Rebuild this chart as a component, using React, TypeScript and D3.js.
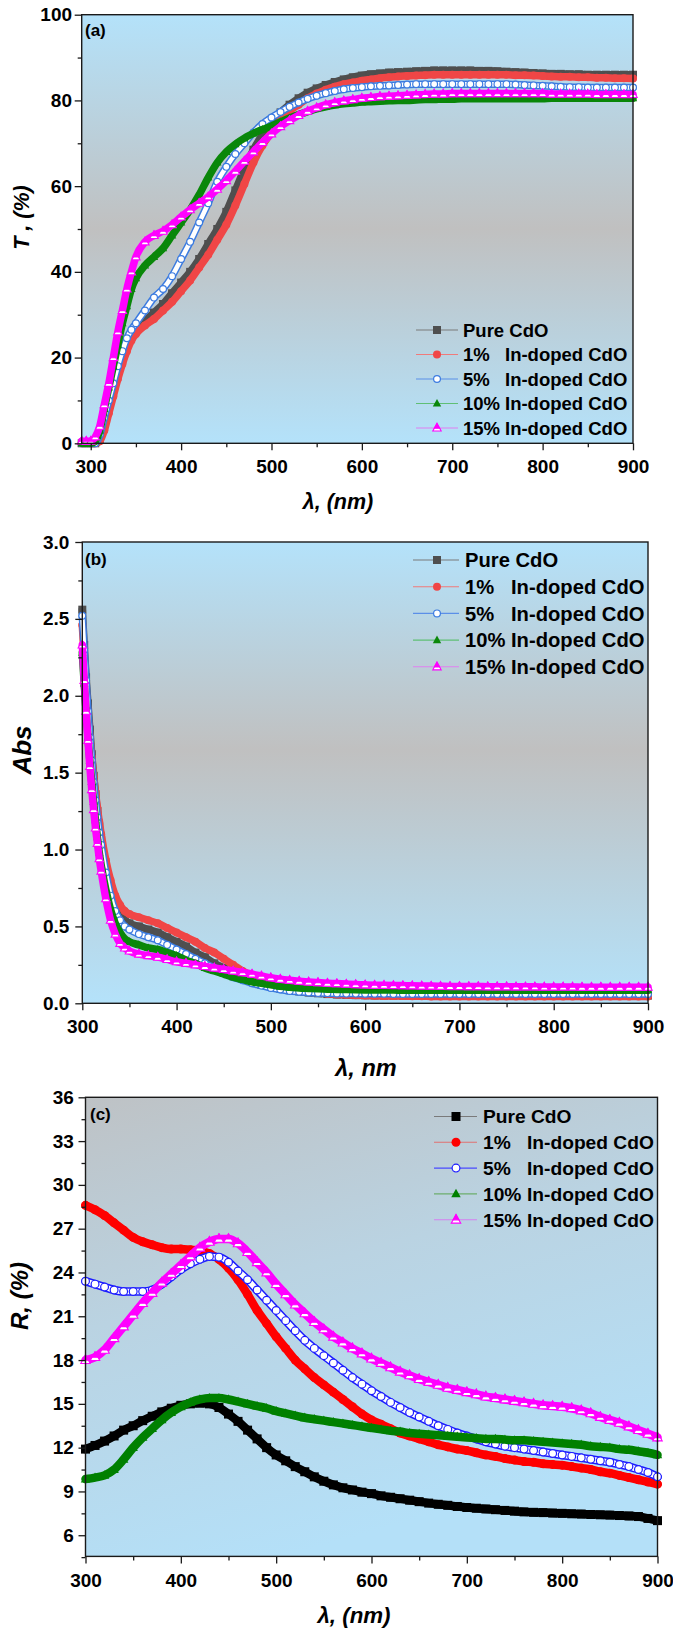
import React, { useEffect, useRef } from "react";
import * as d3 from "d3";

// ---------- data ----------
const legendNames = ["Pure CdO", "1%", "5%", "10%", "15%"];

// (a) transmittance
const waveA = [290, 295, 300, 305, 310, 315, 320, 325, 330, 335, 340, 345, 350,
  360, 370, 380, 390, 400, 410, 420, 430, 440, 450, 460, 470, 480, 490, 500,
  510, 520, 530, 540, 550, 560, 570, 580, 590, 600, 610, 620, 630, 640, 650,
  660, 670, 680, 690, 700, 710, 720, 730, 740, 750, 760, 770, 780, 790, 800,
  810, 820, 830, 840, 850, 860, 870, 880, 890, 900];
const pureA = [0, 0, 0, 0, 1, 5, 9, 13, 17, 20, 23, 25, 26.5,
  28.5, 30.5, 32.5, 35, 37.5, 40, 43, 46.5, 50, 54, 59, 64, 68.5, 72, 74.8,
  77.2, 79, 80.5, 81.8, 82.8, 83.6, 84.3, 84.9, 85.4, 85.8, 86.1, 86.3, 86.5, 86.6, 86.7,
  86.8, 86.9, 87, 87, 87, 87, 87, 86.9, 86.9, 86.8, 86.7, 86.6, 86.5, 86.4, 86.3,
  86.2, 86.2, 86.1, 86.1, 86, 86, 86, 86, 86, 86];
const dope1A = [0, 0, 0, 0, 0.5, 3, 7, 11, 15, 18.5, 21.5, 24, 25.5,
  27.5, 29, 31, 33, 35.5, 38, 41, 44, 47.5, 51, 55.5, 60.5, 65.5, 69.5, 72.5,
  75.3, 77.5, 79, 80.5, 81.6, 82.5, 83.2, 83.8, 84.2, 84.6, 84.9, 85.2, 85.4, 85.6, 85.7,
  85.8, 85.9, 86, 86, 86, 86, 86, 86, 86, 86, 86, 85.9, 85.9, 85.8, 85.7,
  85.6, 85.5, 85.5, 85.4, 85.4, 85.3, 85.3, 85.2, 85.2, 85.1];
const dope5A = [0, 0, 0, 0, 2, 6, 10, 14, 18, 21.5, 24.5, 26.5, 28,
  31, 34, 36, 39, 43, 47, 51.5, 56, 61, 64.5, 67.5, 70, 72.5, 74.5, 76,
  77.3, 78.5, 79.5, 80.4, 81.1, 81.7, 82.2, 82.6, 82.9, 83.1, 83.3, 83.4, 83.5, 83.6, 83.7,
  83.8, 83.8, 83.8, 83.8, 83.8, 83.8, 83.8, 83.8, 83.8, 83.8, 83.8, 83.7, 83.6, 83.5, 83.4,
  83.3, 83.2, 83.1, 83.1, 83, 83, 83, 83, 83, 83];
const dope10A = [0, 0, 0, 0.5, 3, 8, 13, 18, 23, 28, 32, 36, 38.5,
  41.5, 43.5, 45.5, 48.5, 51.5, 54.5, 58, 62, 65.5, 68, 69.8, 71.2, 72.3, 73.2, 74,
  75, 75.9, 76.7, 77.4, 78, 78.5, 78.9, 79.2, 79.4, 79.6, 79.7, 79.8, 79.9, 80, 80,
  80.1, 80.2, 80.2, 80.3, 80.3, 80.4, 80.4, 80.4, 80.4, 80.4, 80.4, 80.4, 80.4, 80.4, 80.4,
  80.5, 80.5, 80.5, 80.5, 80.5, 80.5, 80.5, 80.5, 80.5, 80.5];
const dope15A = [0.5, 0.5, 0.5, 1.5, 4, 9, 14, 20, 26, 31, 36, 40, 43.5,
  47, 48.5, 49.5, 51, 52.8, 54.5, 56, 57.5, 59.3, 61.3, 63.5, 65.8, 68, 70.2, 72.2,
  73.9, 75.3, 76.5, 77.5, 78.3, 79, 79.5, 79.9, 80.2, 80.5, 80.7, 80.9, 81, 81.1, 81.2,
  81.3, 81.4, 81.5, 81.5, 81.6, 81.6, 81.6, 81.6, 81.6, 81.6, 81.6, 81.6, 81.6, 81.6, 81.6,
  81.5, 81.5, 81.5, 81.5, 81.5, 81.4, 81.4, 81.4, 81.4, 81.4];

// (b) absorbance
const waveB = [300, 302, 304, 306, 308, 310, 312, 314, 316, 318, 320, 325, 330, 335, 340, 345, 350,
  360, 370, 380, 390, 400, 410, 420, 430, 440, 450, 460, 470, 480, 490, 500,
  510, 520, 530, 540, 550, 560, 570, 580, 590, 600, 610, 620, 630, 640, 650,
  660, 670, 680, 690, 700, 710, 720, 730, 740, 750, 760, 770, 780, 790, 800,
  810, 820, 830, 840, 850, 860, 870, 880, 890, 900];
const pureB = [2.56, 2.33, 2.12, 1.95, 1.78, 1.62, 1.48, 1.36, 1.25, 1.15, 1.06, 0.88, 0.74, 0.64, 0.58, 0.54, 0.52,
  0.5, 0.48, 0.46, 0.43, 0.4, 0.37, 0.33, 0.3, 0.26, 0.23, 0.19, 0.16, 0.14, 0.12, 0.11,
  0.095, 0.085, 0.077, 0.07, 0.065, 0.06, 0.057, 0.055, 0.053, 0.052, 0.051, 0.05, 0.05, 0.05, 0.05,
  0.05, 0.05, 0.05, 0.05, 0.05, 0.05, 0.05, 0.05, 0.05, 0.05, 0.05, 0.05, 0.05, 0.05, 0.05,
  0.05, 0.05, 0.05, 0.05, 0.05, 0.05, 0.05, 0.05, 0.05, 0.05];
const dope1B = [2.46, 2.24, 2.05, 1.88, 1.73, 1.6, 1.48, 1.37, 1.27, 1.18, 1.1, 0.93, 0.8, 0.7, 0.64, 0.6, 0.58,
  0.56, 0.54, 0.52, 0.49, 0.46, 0.43, 0.4, 0.36, 0.33, 0.29, 0.25, 0.21, 0.18, 0.15, 0.13,
  0.11, 0.095, 0.085, 0.075, 0.068, 0.062, 0.058, 0.055, 0.052, 0.05, 0.049, 0.048, 0.047, 0.047, 0.046,
  0.046, 0.045, 0.045, 0.045, 0.045, 0.045, 0.045, 0.045, 0.045, 0.045, 0.045, 0.045, 0.045, 0.045, 0.045,
  0.045, 0.045, 0.045, 0.045, 0.045, 0.045, 0.045, 0.045, 0.045, 0.045];
const dope5B = [2.52, 2.3, 2.1, 1.9, 1.73, 1.58, 1.44, 1.32, 1.21, 1.11, 1.03, 0.85, 0.7, 0.6, 0.54, 0.5, 0.48,
  0.45, 0.43, 0.41, 0.38, 0.35, 0.32, 0.29, 0.26, 0.23, 0.2, 0.17, 0.15, 0.13, 0.115, 0.1,
  0.09, 0.08, 0.075, 0.07, 0.067, 0.065, 0.064, 0.063, 0.063, 0.062, 0.062, 0.062, 0.061, 0.061, 0.061,
  0.06, 0.06, 0.06, 0.06, 0.06, 0.06, 0.06, 0.06, 0.06, 0.06, 0.06, 0.06, 0.06, 0.06, 0.06,
  0.06, 0.06, 0.06, 0.06, 0.06, 0.06, 0.06, 0.06, 0.06, 0.06];
const dope10B = [2.28, 2.08, 1.9, 1.73, 1.58, 1.44, 1.31, 1.19, 1.08, 0.98, 0.9, 0.74, 0.61, 0.52, 0.46, 0.42, 0.4,
  0.38, 0.36, 0.35, 0.33, 0.31, 0.28, 0.26, 0.23, 0.21, 0.19, 0.17, 0.155, 0.14, 0.13, 0.12,
  0.11, 0.105, 0.1, 0.097, 0.094, 0.092, 0.09, 0.089, 0.088, 0.087, 0.086, 0.086, 0.086, 0.085, 0.085,
  0.085, 0.085, 0.085, 0.085, 0.085, 0.085, 0.085, 0.085, 0.085, 0.085, 0.085, 0.085, 0.085, 0.085, 0.085,
  0.085, 0.085, 0.085, 0.085, 0.085, 0.085, 0.085, 0.085, 0.085, 0.085];
const dope15B = [2.33, 2.1, 1.9, 1.71, 1.54, 1.39, 1.26, 1.14, 1.04, 0.94, 0.86, 0.68, 0.54, 0.45, 0.39, 0.36, 0.34,
  0.32, 0.31, 0.3, 0.285, 0.27, 0.26, 0.25, 0.24, 0.23, 0.22, 0.21, 0.2, 0.19, 0.178, 0.166,
  0.157, 0.15, 0.144, 0.139, 0.135, 0.131, 0.128, 0.125, 0.122, 0.12, 0.118, 0.117, 0.116, 0.115, 0.114,
  0.113, 0.112, 0.111, 0.11, 0.11, 0.109, 0.109, 0.108, 0.108, 0.108, 0.107, 0.107, 0.107, 0.106, 0.106,
  0.106, 0.106, 0.105, 0.105, 0.105, 0.105, 0.105, 0.105, 0.105, 0.105];

// (c) reflectance
const waveC = [300, 310, 320, 330, 340, 350, 360, 370, 380, 390, 400, 410, 420, 430, 440,
  450, 460, 470, 480, 490, 500, 510, 520, 530, 540, 550, 560, 570, 580, 590,
  600, 610, 620, 630, 640, 650, 660, 670, 680, 690, 700, 710, 720, 730, 740,
  750, 760, 770, 780, 790, 800, 810, 820, 830, 840, 850, 860, 870, 880, 890, 900];
const pureC = [11.9, 12.15, 12.45, 12.8, 13.2, 13.5, 13.85, 14.15, 14.45, 14.7, 14.9, 15.0, 15.05, 15.0, 14.75,
  14.3, 13.8, 13.2, 12.6, 12.0, 11.5, 11.1, 10.7, 10.35, 10.0, 9.7, 9.45, 9.25, 9.1, 8.95,
  8.85, 8.7, 8.6, 8.5, 8.4, 8.3, 8.2, 8.12, 8.05, 7.97, 7.9, 7.85, 7.8, 7.75, 7.7,
  7.65, 7.6, 7.57, 7.55, 7.52, 7.5, 7.47, 7.45, 7.42, 7.4, 7.38, 7.35, 7.32, 7.28, 7.15, 7.0];
const dope1C = [28.6, 28.3, 27.9, 27.4, 26.9, 26.4, 26.1, 25.9, 25.7, 25.6, 25.6, 25.55, 25.5, 25.3, 24.9,
  24.3, 23.5, 22.5, 21.4, 20.5, 19.6, 18.8, 18.0, 17.4, 16.8, 16.3, 15.8, 15.3, 14.8, 14.3,
  13.9, 13.6, 13.3, 13.0, 12.8, 12.6, 12.4, 12.2, 12.05, 11.9, 11.8, 11.65, 11.5, 11.4, 11.25,
  11.15, 11.05, 11.0, 10.9, 10.85, 10.8, 10.7, 10.6, 10.5, 10.35, 10.25, 10.1, 9.95, 9.8, 9.65, 9.5];
const dope5C = [23.4, 23.2, 23.0, 22.8, 22.7, 22.7, 22.7, 22.8, 23.2, 23.7, 24.2, 24.6, 24.9, 25.1, 25.05,
  24.7, 24.1, 23.5, 22.8, 22.1, 21.4, 20.7, 20.0, 19.35, 18.8, 18.3, 17.8, 17.3, 16.8, 16.35,
  15.9, 15.5, 15.1, 14.75, 14.4, 14.1, 13.8, 13.5, 13.25, 13.0, 12.8, 12.6, 12.4, 12.25, 12.1,
  12.0, 11.9, 11.8, 11.7, 11.6, 11.5, 11.4, 11.3, 11.2, 11.1, 11.0, 10.85, 10.7, 10.5, 10.3, 10.0];
const dope10C = [9.85, 9.95, 10.1, 10.5, 11.2, 12.0, 12.7, 13.3, 13.9, 14.4, 14.8, 15.1, 15.3, 15.4, 15.4,
  15.3, 15.15, 15.0, 14.85, 14.7, 14.5, 14.35, 14.2, 14.05, 13.95, 13.85, 13.75, 13.65, 13.55, 13.45,
  13.35, 13.25, 13.15, 13.1, 13.0, 12.95, 12.9, 12.85, 12.8, 12.75, 12.7, 12.65, 12.6, 12.6, 12.55,
  12.5, 12.5, 12.45, 12.4, 12.35, 12.3, 12.25, 12.2, 12.1, 12.05, 12.0, 11.9, 11.85, 11.75, 11.65, 11.5];
const dope15C = [18.0, 18.2, 18.7, 19.5, 20.3, 21.1, 21.9, 22.6, 23.3, 23.9, 24.5, 25.1, 25.7, 26.1, 26.3,
  26.3, 26.0, 25.4, 24.7, 24.0, 23.2, 22.5, 21.8, 21.2, 20.6, 20.1, 19.6, 19.2, 18.8, 18.45,
  18.1, 17.8, 17.5, 17.2, 16.95, 16.7, 16.5, 16.3, 16.1, 15.95, 15.8, 15.65, 15.5, 15.4, 15.3,
  15.2, 15.1, 15.0, 14.9, 14.85, 14.8, 14.7, 14.55, 14.35, 14.1, 13.9, 13.7, 13.45, 13.2, 12.95, 12.7];

// ticks
const xMajor = [300, 400, 500, 600, 700, 800, 900];
const xMinor = [350, 450, 550, 650, 750, 850];
const yMajorA = [0, 20, 40, 60, 80, 100];
const yMinorA = [10, 30, 50, 70, 90];
const yMajorB = [0, 0.5, 1, 1.5, 2, 2.5, 3];
const yMinorB = [0.25, 0.75, 1.25, 1.75, 2.25, 2.75];
const yMajorC = [6, 9, 12, 15, 18, 21, 24, 27, 30, 33, 36];
const yMinorC = [4.5, 7.5, 10.5, 13.5, 16.5, 19.5, 22.5, 25.5, 28.5, 31.5, 34.5];

const FONT = "'Liberation Sans', Arial, Helvetica, sans-serif";
const TICK_SIZE = 19;

const stylesAB = [
  { kind: "square", color: "#4f4f4f", line: "#7a7a7a" },
  { kind: "circle", color: "#f04646", line: "#f07a7a" },
  { kind: "open", color: "#3b7be0", line: "#5b8fe8" },
  { kind: "triangle", color: "#0a870a", line: "#5fbf75" },
  { kind: "half", color: "#ff00ff", line: "#e07ff0" },
];
const stylesC = [
  { kind: "square", color: "#000000", line: "#7a7a7a" },
  { kind: "circle", color: "#ff0000", line: "#e07070" },
  { kind: "open", color: "#1c1cff", line: "#4a4aff" },
  { kind: "triangle", color: "#008000", line: "#6cae6c" },
  { kind: "half", color: "#ff00ff", line: "#d47ff0" },
];

const panels = [
  {
    left: 81.7, right: 633, top: 14.7, bottom: 443.3,
    xDomain: [290, 900], yDomain: [0, 100],
    yMajor: yMajorA, yMinor: yMinorA, fmt: (d) => String(d), yPad: 2.7, xPad: 9.4,
    wave: waveA, series: [pureA, dope1A, dope5A, dope10A, dope15A], styles: stylesAB, ms: 8,
    grad: "gA", label: "(a)", labelX: 85, labelY: 30,
    xTitle: "λ, (nm)", xTitleX: 338, xTitleY: 501, xTitleSize: 21.5,
    yTitle: "T , (%)", yTitleX: 21.5, yTitleY: 217.5, yTitleSize: 21.5,
    leg: { y0: 330, dy: 24.5, x1: 416, x2: 458, mx: 437, tx: 463, tx2: 505, size: 18.5 },
  },
  {
    left: 82.3, right: 648, top: 542, bottom: 1003.3,
    xDomain: [300, 900], yDomain: [0, 3],
    yMajor: yMajorB, yMinor: yMinorB, fmt: (d) => d.toFixed(1), yPad: 6, xPad: 9.4,
    wave: waveB, series: [pureB, dope1B, dope5B, dope10B, dope15B], styles: stylesAB, ms: 8,
    grad: "gB", label: "(b)", labelX: 85, labelY: 559,
    xTitle: "λ, nm", xTitleX: 366, xTitleY: 1068, xTitleSize: 23.5,
    yTitle: "Abs", yTitleX: 22.3, yTitleY: 750, yTitleSize: 26,
    leg: { y0: 560, dy: 26.7, x1: 413, x2: 459, mx: 437, tx: 465, tx2: 511, size: 20.2 },
  },
  {
    left: 85.5, right: 657.5, top: 1097.3, bottom: 1556.4,
    xDomain: [300, 900], yDomain: [4.55, 36],
    yMajor: yMajorC, yMinor: yMinorC, fmt: (d) => String(d), yPad: 4.7, xPad: 10.6,
    wave: waveC, series: [pureC, dope1C, dope5C, dope10C, dope15C], styles: stylesC, ms: 9,
    grad: "gC", label: "(c)", labelX: 90, labelY: 1114,
    xTitle: "λ, (nm)", xTitleX: 354, xTitleY: 1615, xTitleSize: 22.3,
    yTitle: "R, (%)", yTitleX: 19.3, yTitleY: 1296, yTitleSize: 24,
    leg: { y0: 1116.5, dy: 25.8, x1: 434, x2: 477, mx: 456, tx: 483, tx2: 527, size: 19.2 },
  },
];

function drawMarker(g, kind, color, s, cx, cy) {
  if (kind === "square") {
    g.append("rect").attr("x", cx - s / 2).attr("y", cy - s / 2)
      .attr("width", s).attr("height", s).attr("fill", color);
  } else if (kind === "circle") {
    g.append("circle").attr("cx", cx).attr("cy", cy).attr("r", s / 2).attr("fill", color);
  } else if (kind === "open") {
    g.append("circle").attr("cx", cx).attr("cy", cy).attr("r", s / 2 - 0.6)
      .attr("fill", "#ffffff").attr("stroke", color).attr("stroke-width", 1.2);
  } else {
    const h = s * 0.95;
    const w = s * 1.05;
    const ay = cy - h * 0.6;
    const by = cy + h * 0.4;
    if (kind === "triangle") {
      g.append("path")
        .attr("d", `M${cx},${ay}L${cx + w / 2},${by}L${cx - w / 2},${by}Z`)
        .attr("fill", color);
    } else {
      g.append("path")
        .attr("d", `M${cx},${ay}L${cx + w / 2},${by}L${cx - w / 2},${by}Z`)
        .attr("fill", "#ffffff").attr("stroke", color).attr("stroke-width", 1.1);
      const my = ay + h * 0.62;
      g.append("path")
        .attr("d", `M${cx},${ay}L${cx + w * 0.31},${my}L${cx - w * 0.31},${my}Z`)
        .attr("fill", color).attr("stroke", color).attr("stroke-width", 1.1);
    }
  }
}

function drawPanel(root, p) {
  const x = d3.scaleLinear().domain(p.xDomain).range([p.left, p.right]);
  const y = d3.scaleLinear().domain(p.yDomain).range([p.bottom, p.top]);
  const g = root.append("g");

  g.append("rect")
    .attr("x", p.left).attr("y", p.top)
    .attr("width", p.right - p.left).attr("height", p.bottom - p.top)
    .attr("fill", `url(#${p.grad})`);

  // data: thick band + markers
  const line = d3.line().x((d) => x(d[0])).y((d) => y(d[1])).curve(d3.curveMonotoneX);
  p.series.forEach((vals, si) => {
    const st = p.styles[si];
    const pts = p.wave.map((w, i) => [w, vals[i]]).filter((d) => d[1] != null);
    const sg = g.append("g");
    sg.append("path").attr("d", line(pts)).attr("fill", "none")
      .attr("stroke", st.color).attr("stroke-width", p.ms - 0.5)
      .attr("stroke-linejoin", "round").attr("stroke-linecap", "round");
    if (st.kind === "open") {
      sg.append("path").attr("d", line(pts)).attr("fill", "none")
        .attr("stroke", "#ffffff").attr("stroke-width", p.ms - 3.5)
        .attr("stroke-linejoin", "round");
    }
    pts.forEach((d) => drawMarker(sg, st.kind, st.color, p.ms, x(d[0]), y(d[1])));
  });

  // frame
  g.append("rect")
    .attr("x", p.left).attr("y", p.top)
    .attr("width", p.right - p.left).attr("height", p.bottom - p.top)
    .attr("fill", "none").attr("stroke", "#1a1a1a").attr("stroke-width", 1.4);

  // axes
  g.append("g").attr("transform", `translate(0,${p.bottom})`)
    .call(d3.axisBottom(x).tickValues(xMajor).tickSize(7).tickPadding(p.xPad));
  g.append("g").attr("transform", `translate(0,${p.bottom})`)
    .call(d3.axisBottom(x).tickValues(xMinor).tickSize(4).tickFormat(() => ""));
  g.append("g").attr("transform", `translate(${p.left},0)`)
    .call(d3.axisLeft(y).tickValues(p.yMajor).tickSize(7).tickPadding(p.yPad).tickFormat(p.fmt));
  g.append("g").attr("transform", `translate(${p.left},0)`)
    .call(d3.axisLeft(y).tickValues(p.yMinor).tickSize(4).tickFormat(() => ""));
  g.selectAll(".domain").remove();
  g.selectAll(".tick line").attr("stroke", "#1a1a1a").attr("stroke-width", 1.3);
  g.selectAll(".tick text")
    .attr("fill", "#000").style("font-family", FONT)
    .style("font-size", `${TICK_SIZE}px`).style("font-weight", "bold");

  // panel tag
  g.append("text").attr("x", p.labelX).attr("y", p.labelY).attr("dy", "0.35em")
    .style("font-family", FONT).style("font-size", "17px").style("font-weight", "bold")
    .text(p.label);

  // titles
  g.append("text").attr("x", p.xTitleX).attr("y", p.xTitleY).attr("dy", "0.35em")
    .attr("text-anchor", "middle")
    .style("font-family", FONT).style("font-size", `${p.xTitleSize}px`)
    .style("font-weight", "bold").style("font-style", "italic")
    .text(p.xTitle);
  g.append("text")
    .attr("transform", `translate(${p.yTitleX},${p.yTitleY}) rotate(-90)`)
    .attr("dy", "0.35em").attr("text-anchor", "middle")
    .style("font-family", FONT).style("font-size", `${p.yTitleSize}px`)
    .style("font-weight", "bold").style("font-style", "italic")
    .text(p.yTitle);

  // legend
  const L = p.leg;
  legendNames.forEach((name, i) => {
    const st = p.styles[i];
    const ly = L.y0 + i * L.dy;
    g.append("line").attr("x1", L.x1).attr("x2", L.x2).attr("y1", ly).attr("y2", ly)
      .attr("stroke", st.line).attr("stroke-width", 1.1);
    drawMarker(g, st.kind, st.color, p.ms, L.mx, ly);
    const t = g.append("g")
      .style("font-family", FONT).style("font-size", `${L.size}px`).style("font-weight", "bold");
    t.append("text").attr("x", L.tx).attr("y", ly).attr("dy", "0.36em").text(name);
    if (i > 0) {
      t.append("text").attr("x", L.tx2).attr("y", ly).attr("dy", "0.36em").text("In-doped CdO");
    }
  });
}

const App = () => {
  const svgRef = useRef(null);

  useEffect(() => {
    const root = d3.select(svgRef.current).select("g.plots");
    root.selectAll("*").remove();
    panels.forEach((p) => drawPanel(root, p));
  }, []);

  return (
    <svg
      ref={svgRef}
      width={673}
      height={1631}
      style={{ position: "absolute", left: 0, top: 0, background: "#ffffff" }}
    >
      <defs>
        <linearGradient id="gA" x1="0" y1="0" x2="0" y2="1">
          <stop offset="0" stopColor="#b4e2fa" />
          <stop offset="0.5" stopColor="#c0c0c0" />
          <stop offset="1" stopColor="#b4e2fa" />
        </linearGradient>
        <linearGradient id="gB" x1="0" y1="0" x2="0" y2="1">
          <stop offset="0" stopColor="#b4e2fa" />
          <stop offset="0.45" stopColor="#c0c0c0" />
          <stop offset="1" stopColor="#b4e2fa" />
        </linearGradient>
        <linearGradient id="gC" x1="0" y1="0" x2="0.35" y2="1">
          <stop offset="0" stopColor="#bec2c5" />
          <stop offset="0.45" stopColor="#bad3e2" />
          <stop offset="1" stopColor="#b4e0f8" />
        </linearGradient>
      </defs>
      <g className="plots" />
    </svg>
  );
};

export default App;
